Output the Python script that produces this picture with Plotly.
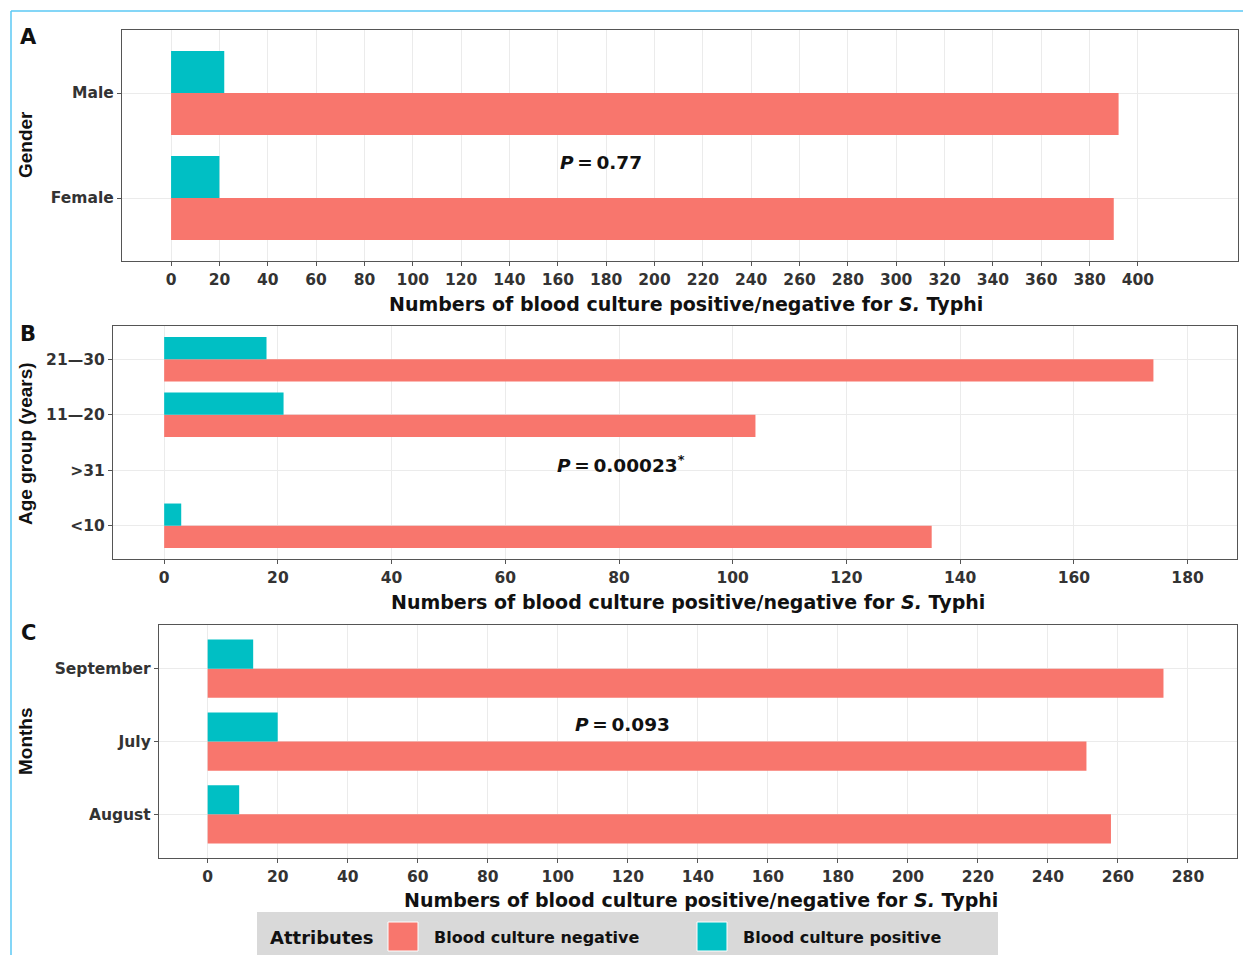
import plotly.graph_objects as go

# ---------------- data ----------------
gender_cats = ["Female", "Male"]
gender_neg = [390, 392]
gender_pos = [20, 22]

age_cats = ["<10", ">31", "11\u201420", "21\u201430"]
age_neg = [135, 0, 104, 174]
age_pos = [3, 0, 21, 18]

month_cats = ["August", "July", "September"]
month_neg = [258, 251, 273]
month_pos = [9, 20, 13]

ticks_a = list(range(0, 401, 20))
ticks_b = list(range(0, 181, 20))
ticks_c = list(range(0, 281, 20))

series_names = ["Blood culture negative", "Blood culture positive"]
p_values = ["0.77", "0.00023<sup>*</sup>", "0.093"]
y_titles = ["Gender", "Age group (years)", "Months"]
panel_letters = ["A", "B", "C"]
x_title = "Numbers of blood culture positive/negative for <i>S.</i> Typhi"

NEG = "#F8766D"
POS = "#00BFC4"
FONT = "DejaVu Sans"
FONT_V = "Liberation Sans"
W, H = 1243, 955

def px(x):
    return x / W

def py(y):
    return 1 - y / H

fig = go.Figure()

panels = [
    (gender_cats, gender_neg, gender_pos, "x", "y"),
    (age_cats, age_neg, age_pos, "x2", "y2"),
    (month_cats, month_neg, month_pos, "x3", "y3"),
]
for cats, neg, pos, xa, ya in panels:
    fig.add_trace(go.Bar(y=cats, x=neg, orientation="h", marker=dict(color=NEG, line=dict(width=0)),
                         name=series_names[0], showlegend=False, xaxis=xa, yaxis=ya))
    fig.add_trace(go.Bar(y=cats, x=pos, orientation="h", marker=dict(color=POS, line=dict(width=0)),
                         name=series_names[1], showlegend=False, xaxis=xa, yaxis=ya))

# pixel geometry of plot panels: (left, right, top, bottom)
geo = [(122, 1238, 30, 261), (113, 1237, 326, 559), (159, 1237, 625, 858)]
xranges = [[-20.3, 441.4], [-9.0, 188.7], [-13.9, 294.0]]
xticks = [ticks_a, ticks_b, ticks_c]
ncats = [len(gender_cats), len(age_cats), len(month_cats)]

tickfont = dict(family=FONT, size=15.5, color="#333333", weight="bold")
common_axis = dict(showline=True, mirror=True, linecolor="#555555", linewidth=1.3,
                   ticks="outside", ticklen=4, tickcolor="#555555", tickwidth=1,
                   gridcolor="#EBEBEB", gridwidth=1, zeroline=False, tickfont=tickfont)

layout = {}
for i, ((l, r, t, b), xr, tv, n) in enumerate(zip(geo, xranges, xticks, ncats)):
    sx = "" if i == 0 else str(i + 1)
    layout["xaxis" + sx] = dict(domain=[px(l), px(r)], range=xr, tickvals=tv,
                                anchor="y" + sx, fixedrange=True, **common_axis)
    layout["yaxis" + sx] = dict(domain=[py(b), py(t)], range=[-0.6, n - 0.4],
                                anchor="x" + sx, type="category", fixedrange=True, **common_axis)

fig.update_layout(**layout)

ann = []
# panel letters
for letter, y in zip(panel_letters, [37, 334, 633]):
    ann.append(dict(text=f"<b>{letter}</b>", x=px(28), y=py(y), xref="paper", yref="paper",
                    showarrow=False, xanchor="center", yanchor="middle",
                    font=dict(family=FONT, size=21, color="#111111")))
# y titles
for title, y in zip(y_titles, [145, 444, 741]):
    ann.append(dict(text=title, x=px(25), y=py(y), xref="paper", yref="paper", textangle=-90,
                    showarrow=False, xanchor="center", yanchor="middle",
                    font=dict(family=FONT_V, size=19, color="#111111", weight="bold")))
# x titles
for x, y in [(686, 304), (688, 602), (701, 900)]:
    ann.append(dict(text=x_title, x=px(x), y=py(y), xref="paper", yref="paper",
                    showarrow=False, xanchor="center", yanchor="middle",
                    font=dict(family=FONT, size=19, color="#111111", weight="bold")))
# p-values
for pv, (x, y) in zip(p_values, [(601, 162), (621, 464), (622, 724)]):
    ann.append(dict(text=f"<i>P</i>\u2009=\u2009{pv}", x=px(x), y=py(y), xref="paper", yref="paper",
                    showarrow=False, xanchor="center", yanchor="middle",
                    font=dict(family=FONT, size=18.5, color="#111111", weight="bold")))

# custom legend
ann.append(dict(text="Attributes", x=px(268), y=py(937), xref="paper", yref="paper",
                showarrow=False, xanchor="left", yanchor="middle",
                font=dict(family=FONT, size=18, color="#111111", weight="bold")))
ann.append(dict(text=series_names[0], x=px(432), y=py(937), xref="paper", yref="paper",
                showarrow=False, xanchor="left", yanchor="middle",
                font=dict(family=FONT, size=16, color="#111111", weight="bold")))
ann.append(dict(text=series_names[1], x=px(741), y=py(937), xref="paper", yref="paper",
                showarrow=False, xanchor="left", yanchor="middle",
                font=dict(family=FONT, size=16, color="#111111", weight="bold")))

shapes = [
    dict(type="rect", xref="paper", yref="paper", x0=px(257), x1=px(998), y0=py(955), y1=py(912),
         fillcolor="#D9D9D9", line=dict(width=0), layer="below"),
    dict(type="rect", xref="paper", yref="paper", x0=px(388), x1=px(418), y0=py(951), y1=py(922),
         fillcolor=NEG, line=dict(color="#FFFFFF", width=1)),
    dict(type="rect", xref="paper", yref="paper", x0=px(697), x1=px(727), y0=py(951), y1=py(922),
         fillcolor=POS, line=dict(color="#FFFFFF", width=1)),
    # screenshot frame lines
    dict(type="line", xref="paper", yref="paper", x0=px(11), x1=px(1243), y0=py(11), y1=py(11),
         line=dict(color="#5BC8F5", width=1.5)),
    dict(type="line", xref="paper", yref="paper", x0=px(11), x1=px(11), y0=py(11), y1=py(955),
         line=dict(color="#5BC8F5", width=1.5)),
]

fig.update_layout(
    width=W, height=H, margin=dict(l=0, r=0, t=0, b=0),
    paper_bgcolor="white", plot_bgcolor="white",
    barmode="group", bargap=0.2, bargroupgap=0,
    showlegend=False, annotations=ann, shapes=shapes,
    font=dict(family=FONT, color="#333333"),
)

fig.write_html("out.html", config={"displayModeBar": False},
               post_script="document.body.style.margin='0';document.body.style.overflow='hidden';")
